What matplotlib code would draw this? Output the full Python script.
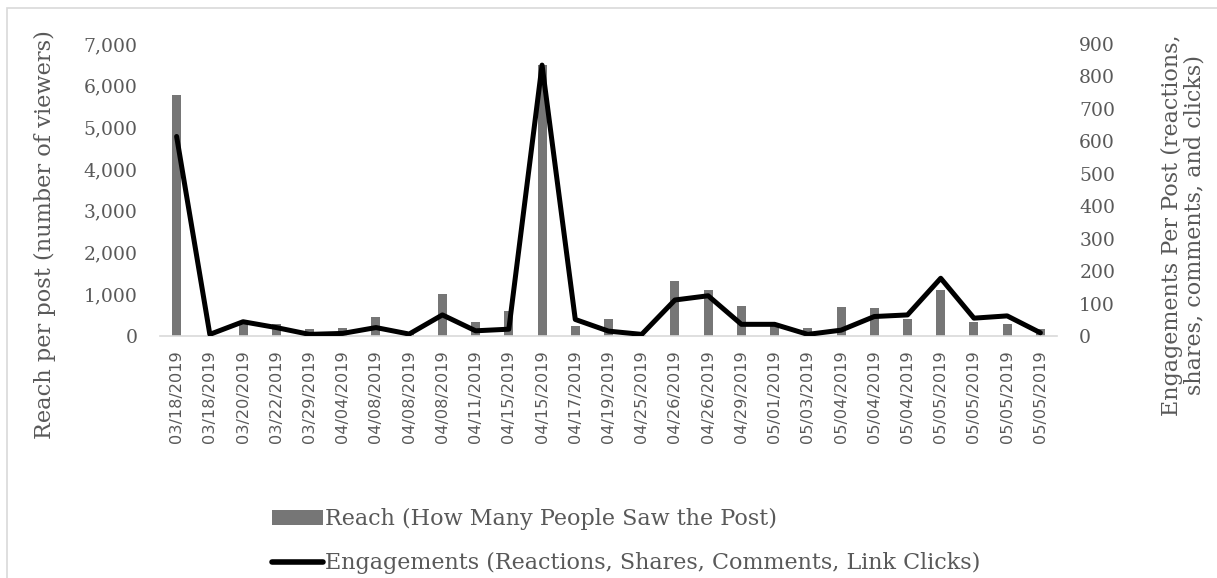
import matplotlib
matplotlib.use("Agg")
import matplotlib.pyplot as plt
from matplotlib.patches import Rectangle, Patch
from matplotlib.lines import Line2D
from matplotlib.ticker import FuncFormatter

dates = ["03/18/2019", "03/18/2019", "03/20/2019", "03/22/2019", "03/29/2019",
         "04/04/2019", "04/08/2019", "04/08/2019", "04/08/2019", "04/11/2019",
         "04/15/2019", "04/15/2019", "04/17/2019", "04/19/2019", "04/25/2019",
         "04/26/2019", "04/26/2019", "04/29/2019", "05/01/2019", "05/03/2019",
         "05/04/2019", "05/04/2019", "05/04/2019", "05/05/2019", "05/05/2019",
         "05/05/2019", "05/05/2019"]
reach = [5770, 0, 300, 280, 160, 190, 465, 60, 1010, 335, 600, 6500, 250, 410, 30,
         1320, 1100, 730, 250, 185, 690, 665, 400, 1100, 340, 290, 160]
engagements = [615, 5, 44, 26, 5, 8, 26, 6, 65, 16, 21, 835, 51, 15, 5,
               111, 124, 36, 36, 5, 18, 60, 65, 178, 55, 62, 10]

TXT = "#595959"
BAR = "#767676"
SERIF = "DejaVu Serif"

W, H = 1217, 578
fig = plt.figure(figsize=(W / 100, H / 100), dpi=100)
ax = fig.add_axes([160 / W, 1 - 336 / H, (1057 - 160) / W, (336 - 44) / H])
ax2 = ax.twinx()

x = list(range(len(dates)))
ax.bar(x, reach, width=0.27, color=BAR, zorder=2)
ax2.plot(x, engagements, color="black", lw=3.6, solid_joinstyle="round",
         solid_capstyle="round", zorder=3)

ax.set_xlim(-0.5, len(dates) - 0.5)
ax.set_ylim(0, 7000)
ax2.set_ylim(0, 900)
ax.set_yticks(range(0, 7001, 1000))
ax2.set_yticks(range(0, 901, 100))
ax.yaxis.set_major_formatter(FuncFormatter(lambda v, p: f"{int(v):,}"))
ax.set_xticks(x)
ax.set_xticklabels(dates, rotation=90, fontsize=11.6, color=TXT, family="DejaVu Sans")

for a in (ax, ax2):
    for s in a.spines.values():
        s.set_visible(False)
    a.tick_params(length=0)
ax.spines["bottom"].set_visible(True)
ax.spines["bottom"].set_color("#d9d9d9")
ax.spines["bottom"].set_linewidth(1.2)
ax.tick_params(axis="x", pad=10)
ax.tick_params(axis="y", pad=16, labelsize=13.5, labelcolor=TXT)
ax2.tick_params(axis="y", pad=16, labelsize=13.5, labelcolor=TXT)
for lab in ax.get_yticklabels() + ax2.get_yticklabels():
    lab.set_family(SERIF)
ax.set_zorder(ax2.get_zorder() - 1)
ax.patch.set_visible(False)

fig.text(45 / W, 1 - 235 / H, "Reach per post (number of viewers)", rotation=90,
         ha="center", va="center", fontsize=16.2, color=TXT, family=SERIF)
fig.text(1183 / W, 1 - 225 / H,
         "Engagements Per Post (reactions,\nshares, comments, and clicks)",
         rotation=90, ha="center", va="center", fontsize=16.0, color=TXT,
         family=SERIF, linespacing=1.05)

handles = [Patch(facecolor=BAR, edgecolor="none"),
           Line2D([], [], color="black", lw=4, solid_capstyle="round")]
labels = ["Reach (How Many People Saw the Post)",
          "Engagements (Reactions, Shares, Comments, Link Clicks)"]
leg = fig.legend(handles, labels, loc="upper left",
                 bbox_to_anchor=(263 / W, 1 - 499 / H), frameon=False,
                 fontsize=16, handlelength=2.3, handleheight=0.65,
                 handletextpad=0.1, labelspacing=1.0, borderaxespad=0)
for t in leg.get_texts():
    t.set_color(TXT)
    t.set_family(SERIF)

fig.patches.append(Rectangle((7 / W, -0.1), 1.2, 1 - 8 / H + 0.1,
                             transform=fig.transFigure, fill=False,
                             edgecolor="#d9d9d9", lw=1.2))

fig.savefig("out.png", dpi=100)
